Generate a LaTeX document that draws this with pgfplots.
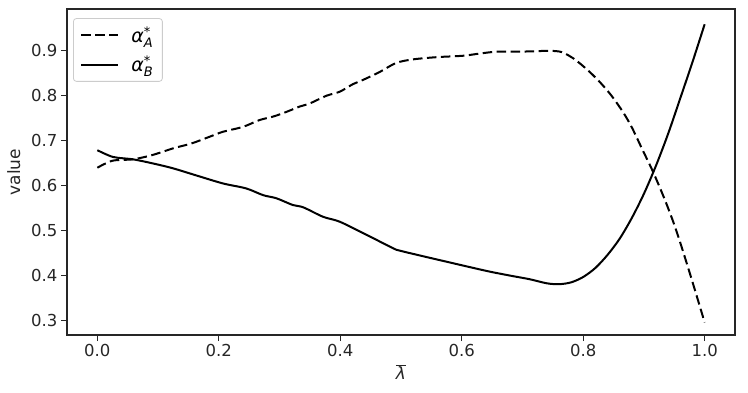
\documentclass[border=0pt]{standalone}
\usepackage{fontspec}
\setmainfont{DejaVu Sans}
\usepackage{pgfplots}
\pgfplotsset{compat=1.18}
\definecolor{Spine}{gray}{0.15}
\definecolor{LegendEdge}{gray}{0.8}

\begin{document}
\begin{tikzpicture}
\begin{axis}[
  scale only axis,
  width=668pt, height=326pt,
  xmin=-0.05, xmax=1.05, ymin=0.268, ymax=0.993,
  xtick={0,0.2,0.4,0.6,0.8,1.0},
  ytick={0.3,0.4,0.5,0.6,0.7,0.8,0.9},
  xticklabel style={/pgf/number format/.cd,fixed,fixed zerofill,precision=1},
  yticklabel style={/pgf/number format/.cd,fixed,fixed zerofill,precision=1},
  /pgf/number format/assume math mode=true,
  ticklabel style={font=\fontsize{16.5}{16.5}\selectfont, text=Spine},
  label style={font=\fontsize{17}{17}\selectfont, text=Spine},
  axis line style={Spine, line width=1.3pt},
  tick style={Spine, line width=1.3pt},
  tick align=outside, major tick length=6pt,
  xtick pos=bottom, ytick pos=left,
  xlabel={$\overline{\mbox{\itshape λ}}$},
  ylabel={value},
  xlabel style={yshift=-1pt},
  ylabel style={yshift=4pt},
  legend style={draw=LegendEdge, line width=0.8pt, rounded corners=3pt, at={(0.009,0.972)}, anchor=north west,
    font=\fontsize{19}{19}\selectfont, inner xsep=7pt, inner ysep=6pt, row sep=8pt,
    /tikz/every odd column/.append style={column sep=10pt}},
  legend cell align=left,
  legend image code/.code={\draw[#1] (0cm,0cm) -- (37pt,0cm);},
]
\addplot[black, line width=2pt, dash pattern=on 9.5pt off 4.5pt, smooth] coordinates {
  (0.0,0.640) (0.025,0.6556) (0.0586,0.6587) (0.09,0.668) (0.1245,0.683)
  (0.155,0.694) (0.185,0.709) (0.207,0.720) (0.24,0.731) (0.267,0.746)
  (0.29,0.754) (0.311,0.764) (0.333,0.776) (0.35,0.783) (0.377,0.800)
  (0.399,0.809) (0.421,0.826) (0.437,0.835) (0.465,0.853) (0.492,0.873)
  (0.52,0.881) (0.56,0.886) (0.602,0.889) (0.63,0.894) (0.657,0.898)
  (0.69,0.898) (0.72,0.899) (0.745,0.900) (0.765,0.897) (0.785,0.882)
  (0.805,0.860) (0.825,0.834) (0.845,0.803) (0.865,0.765) (0.88,0.730)
  (0.898,0.679) (0.915,0.631) (0.935,0.567) (0.953,0.5016) (0.975,0.408)
  (1.0,0.296)};
\addlegendentry{$\mbox{\itshape α}^{\mbox{\fontsize{13}{13}\selectfont *}}_{\mbox{\fontsize{13}{13}\selectfont\itshape A}}$}
\addplot[black, line width=2pt, smooth] coordinates {
  (0.0,0.679) (0.0257,0.664) (0.0586,0.6587) (0.09,0.650) (0.1245,0.6387)
  (0.165,0.622) (0.207,0.605) (0.245,0.594) (0.273,0.579) (0.295,0.572)
  (0.322,0.557) (0.339,0.552) (0.3715,0.531) (0.399,0.520) (0.44,0.493)
  (0.487,0.461) (0.498,0.4556) (0.54,0.442) (0.575,0.431) (0.61,0.420)
  (0.646,0.409) (0.68,0.400) (0.712,0.392) (0.74,0.383) (0.76,0.381)
  (0.78,0.385) (0.80,0.397) (0.82,0.417) (0.84,0.446) (0.86,0.482)
  (0.88,0.528) (0.90,0.582) (0.92,0.645) (0.94,0.716) (0.96,0.795)
  (0.98,0.875) (1.0,0.959)};
\addlegendentry{$\mbox{\itshape α}^{\mbox{\fontsize{13}{13}\selectfont *}}_{\mbox{\fontsize{13}{13}\selectfont\itshape B}}$}
\end{axis}
\path ([xshift=-67pt,yshift=-57pt]current axis.south west) rectangle ([xshift=13pt,yshift=9pt]current axis.north east);
\end{tikzpicture}
\end{document}
